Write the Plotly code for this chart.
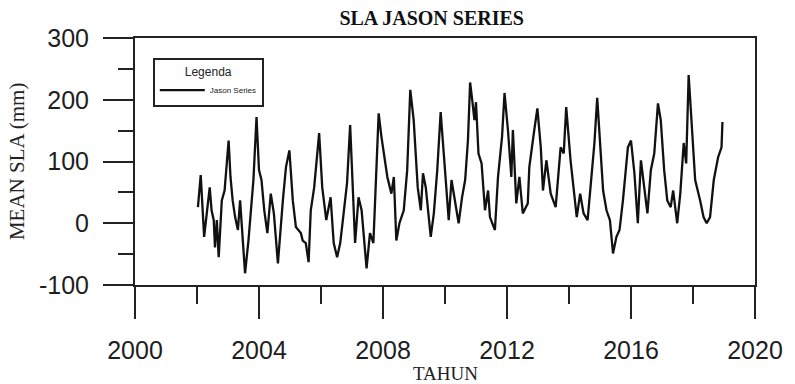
import plotly.graph_objects as go

years = [2002.03, 2002.12, 2002.23, 2002.32, 2002.41, 2002.47, 2002.54, 2002.58, 2002.64, 2002.70,
         2002.80, 2002.89, 2002.95, 2003.02, 2003.08, 2003.15, 2003.23, 2003.32, 2003.39, 2003.44,
         2003.55, 2003.66, 2003.76, 2003.82, 2003.92, 2004.00, 2004.08, 2004.17, 2004.27, 2004.38,
         2004.48, 2004.61, 2004.77, 2004.87, 2004.98, 2005.09, 2005.19, 2005.35, 2005.41, 2005.51,
         2005.60, 2005.67, 2005.78, 2005.88, 2005.94, 2006.04, 2006.17, 2006.31, 2006.41, 2006.52,
         2006.62, 2006.73, 2006.84, 2006.94, 2007.02, 2007.10, 2007.21, 2007.31, 2007.47, 2007.58,
         2007.69, 2007.79, 2007.86, 2007.95, 2008.05, 2008.14, 2008.27, 2008.35, 2008.43, 2008.53,
         2008.67, 2008.78, 2008.88, 2008.99, 2009.12, 2009.22, 2009.29, 2009.38, 2009.54, 2009.64,
         2009.75, 2009.86, 2009.96, 2010.07, 2010.12, 2010.21, 2010.33, 2010.44, 2010.55, 2010.65,
         2010.74, 2010.81, 2010.88, 2010.95, 2011.00, 2011.08, 2011.18, 2011.29, 2011.39, 2011.45,
         2011.61, 2011.71, 2011.84, 2011.92, 2012.03, 2012.14, 2012.19, 2012.30, 2012.40, 2012.51,
         2012.67, 2012.72, 2012.88, 2012.98, 2013.09, 2013.16, 2013.27, 2013.41, 2013.57, 2013.73,
         2013.83, 2013.91, 2014.05, 2014.15, 2014.25, 2014.36, 2014.47, 2014.60, 2014.73, 2014.82,
         2014.91, 2015.00, 2015.10, 2015.21, 2015.32, 2015.42, 2015.53, 2015.63, 2015.74, 2015.90,
         2016.00, 2016.11, 2016.22, 2016.32, 2016.43, 2016.53, 2016.64, 2016.75, 2016.87, 2016.96,
         2017.07, 2017.17, 2017.28, 2017.36, 2017.49, 2017.59, 2017.70, 2017.78, 2017.86, 2017.97,
         2018.07, 2018.23, 2018.34, 2018.44, 2018.55, 2018.67, 2018.81, 2018.92, 2018.95]

sla_mm = [26, 78, -22, 16, 58, 21, 5, -39, 5, -55,
          37, 53, 91, 134, 75, 37, 10, -11, 37, -6,
          -81, -28, 32, 70, 172, 86, 70, 21, -16, 48,
          16, -65, 37, 91, 118, 37, -6, -16, -28, -32,
          -63, 21, 58, 107, 146, 58, 5, 42, -32, -55,
          -32, 16, 65, 159, 58, -32, 42, 21, -73, -16,
          -32, 86, 178, 140, 102, 75, 48, 75, -28, 0,
          21, 86, 216, 167, 58, 21, 81, 58, -22, 16,
          86, 180, 113, 42, 5, 70, 32, 0, 42, 70,
          134, 228, 199, 167, 196, 113, 97, 21, 53, 10,
          -11, 75, 140, 211, 151, 75, 151, 32, 75, 16,
          32, 91, 151, 186, 123, 53, 102, 48, 26, 123,
          113, 188, 102, 53, 10, 48, 16, 5, 86, 130,
          203, 123, 53, 21, 5, -49, -22, -11, 37, 123,
          134, 81, 0, 102, 58, 16, 86, 113, 194, 167,
          86, 37, 26, 53, 0, 48, 130, 97, 240, 151,
          70, 37, 10, 0, 10, 70, 107, 123, 164]

x_ticks = [2000, 2004, 2008, 2012, 2016, 2020]
y_ticks = [-100, 0, 100, 200, 300]

fig = go.Figure()
fig.add_trace(go.Scatter(
    x=years, y=sla_mm, mode="lines", name="Jason Series",
    line=dict(color="#111111", width=2.3),
))

axis_color = "#222222"
tick_font = dict(family="Liberation Sans, Arial, sans-serif", size=25, color="#1e1e1e")

fig.update_layout(
    width=795, height=384,
    margin=dict(l=135, r=32, t=38, b=99),
    paper_bgcolor="white", plot_bgcolor="white",
    title=dict(text="<b>SLA JASON SERIES</b>", x=0.543, xref="container", xanchor="center",
               y=1 - 18 / 384, yref="container", yanchor="middle",
               font=dict(family="Liberation Serif, Times New Roman, serif", size=20, color="#111111")),
    xaxis=dict(range=[2000, 2020], tickvals=x_ticks, ticktext=[str(v) for v in x_ticks],
               showgrid=False, zeroline=False, showline=True, linecolor=axis_color, linewidth=2,
               mirror=True, ticks="outside", ticklen=32, tickwidth=2, tickcolor=axis_color,
               ticklabelstandoff=10,
               minor=dict(dtick=2, ticks="outside", ticklen=17, tickwidth=2, tickcolor=axis_color),
               tickfont=tick_font),
    yaxis=dict(range=[-100, 300], tickvals=y_ticks, ticktext=[str(v) for v in y_ticks],
               showgrid=False, zeroline=False, showline=True, linecolor=axis_color, linewidth=2,
               mirror=True, ticks="outside", ticklen=30, tickwidth=2, tickcolor=axis_color,
               ticklabelstandoff=9,
               minor=dict(dtick=50, ticks="outside", ticklen=15, tickwidth=2, tickcolor=axis_color),
               tickfont=tick_font),
    showlegend=True,
    legend=dict(x=0.0287, y=0.919, xanchor="left", yanchor="top",
                bordercolor="#222222", borderwidth=2, bgcolor="white",
                title=dict(text="Legenda", side="top center",
                           font=dict(family="Liberation Sans Narrow, Liberation Sans, Arial", size=12, color="#222")),
                font=dict(family="Liberation Sans Narrow, Liberation Sans, Arial", size=8, color="#222"),
                itemwidth=45, entrywidth=48),
    annotations=[
        dict(text="MEAN SLA (mm)", x=-0.191, y=0.5, xref="paper", yref="paper",
             textangle=-90, showarrow=False, xanchor="center", yanchor="middle",
             font=dict(family="Liberation Serif, Times New Roman, serif", size=21, color="#222")),
        dict(text="TAHUN", x=0.5, y=(285 - 373) / 247, xref="paper", yref="paper",
             showarrow=False, xanchor="center", yanchor="middle",
             font=dict(family="Liberation Serif, Times New Roman, serif", size=19, color="#222")),
    ],
)

fig.write_html("out.html")
